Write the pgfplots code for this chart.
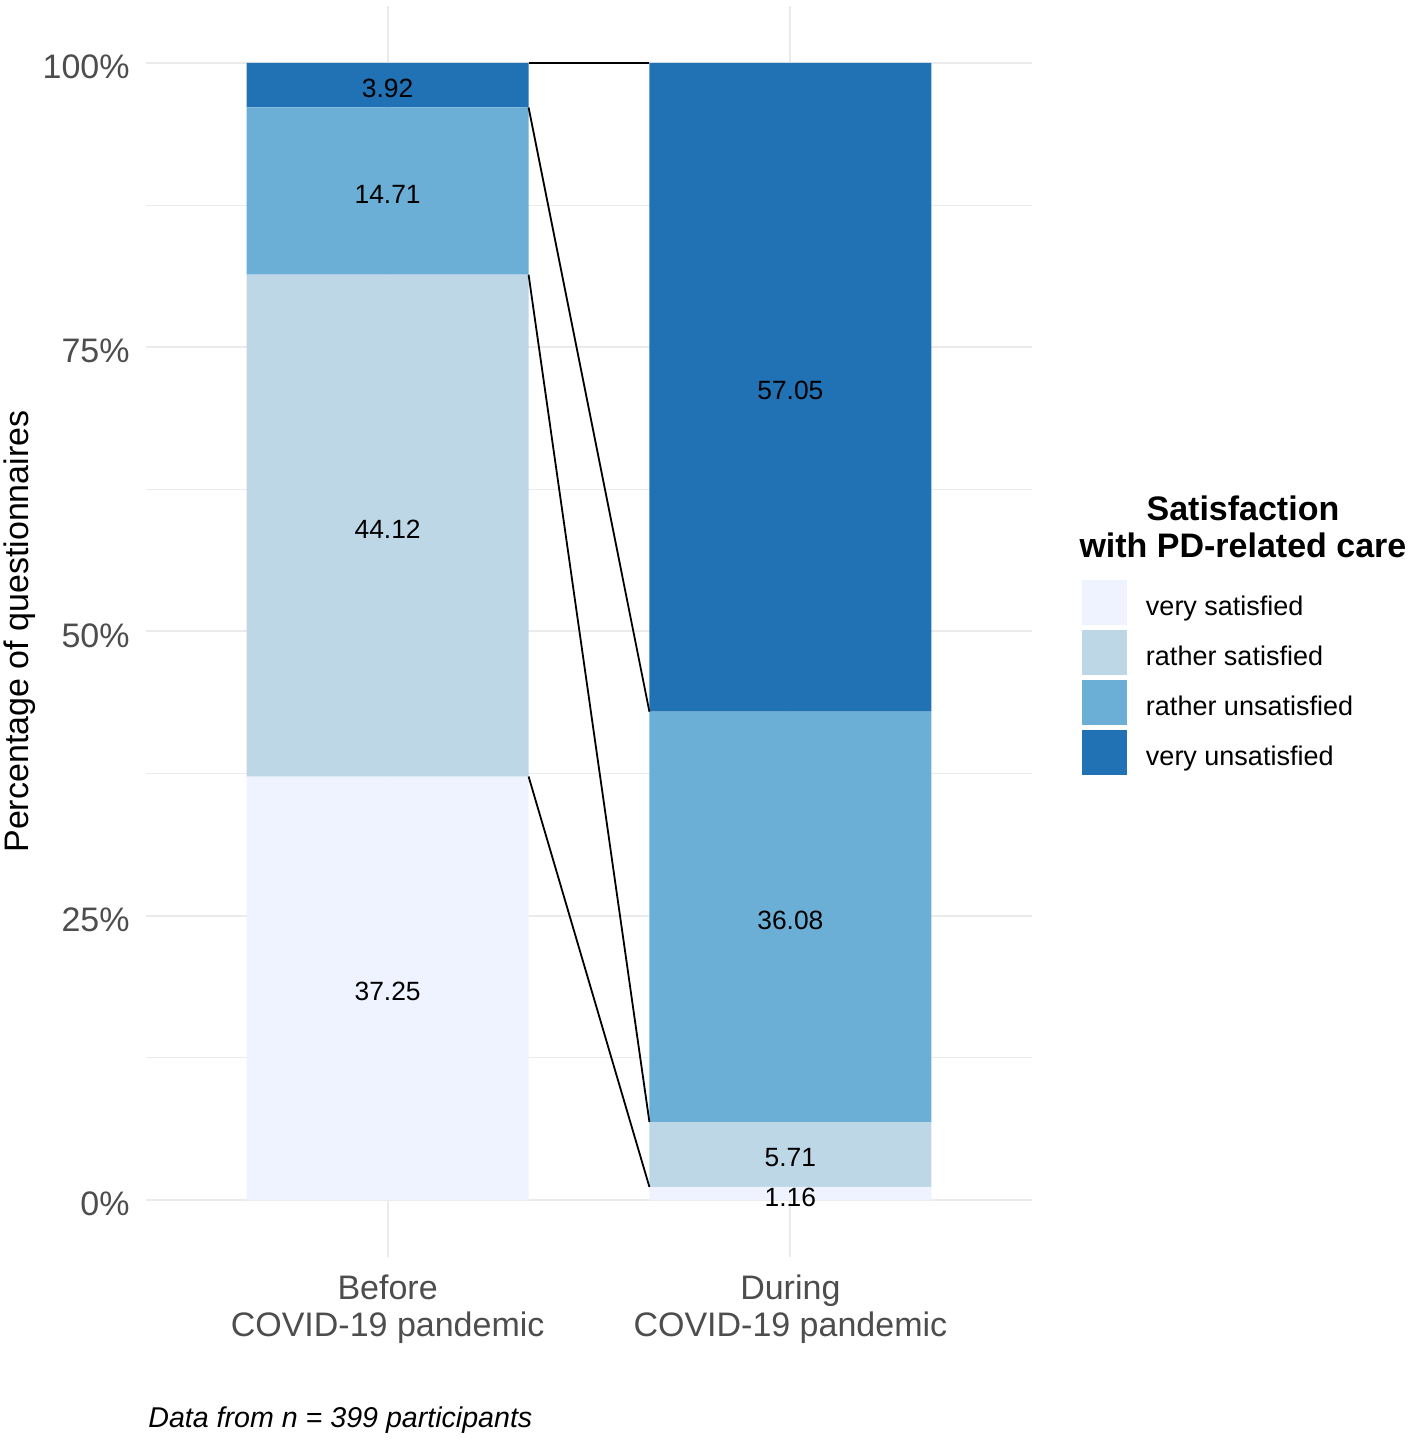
\documentclass[border=0pt]{standalone}
\usepackage{pgfplots}
\pgfplotsset{compat=1.18}
\usepackage{fontspec}
\setmainfont{Liberation Sans}
\definecolor{vs}{HTML}{EFF3FF}
\definecolor{rs}{HTML}{BDD7E7}
\definecolor{ru}{HTML}{6BAED6}
\definecolor{vu}{HTML}{2171B5}
\definecolor{gridc}{HTML}{EBEBEB}
\definecolor{tickc}{HTML}{4D4D4D}
\pgfplotsset{
  base/.style={at={(0,0)}, anchor=south west, scale only axis,
    width=443pt, height=625.5pt, xmin=0.4, xmax=2.6, ymin=-5, ymax=105},
  keyimg/.style={legend image code/.code={\fill[##1] (0pt,-9pt) rectangle (22.5pt,13.5pt);}}
}
\begin{document}
\begin{tikzpicture}
\useasboundingbox (-73pt,-92.5pt) rectangle (635pt,628.5pt);
\begin{axis}[base, ybar stacked, bar width=0.7,
  /pgf/number format/assume math mode=true,
  axis line style={draw=none},
  major tick length=0pt, minor tick length=0pt,
  xtick={1,2},
  xticklabels={{Before\\COVID-19 pandemic},{During\\COVID-19 pandemic}},
  ytick={0,25,50,75,100},
  yticklabels={0\%,25\%,50\%,75\%,100\%},
  minor ytick={12.5,37.5,62.5,87.5},
  xmajorgrids, ymajorgrids, yminorgrids,
  major grid style={gridc, line width=1pt},
  minor grid style={gridc, line width=0.5pt},
  xticklabel style={align=center, font=\fontsize{17}{18.5}\selectfont, text=tickc, inner sep=0pt, anchor=north, yshift=-8.5pt},
  yticklabel style={font=\fontsize{17}{20}\selectfont, text=tickc, inner sep=0pt, anchor=east, xshift=-8pt, yshift=-2pt},
  ylabel={Percentage of questionnaires},
  ylabel style={font=\fontsize{17}{20}\selectfont, at={(axis description cs:-0.1422,0.5)}, anchor=center},
  legend cell align=left,
  legend style={at={(1.05643,0.54117)}, anchor=north west, draw=none, fill=none,
    inner sep=0pt, outer sep=0pt, row sep=2.5pt,
    font=\fontsize{13.5}{16}\selectfont, nodes={inner sep=0pt},
    /tikz/every odd column/.append style={column sep=9.5pt}},
]
\addplot[fill=vs, draw=none, keyimg] coordinates {(1,37.25) (2,1.16)};
\addlegendentry{very satisfied}
\addplot[fill=rs, draw=none, keyimg] coordinates {(1,44.12) (2,5.71)};
\addlegendentry{rather satisfied}
\addplot[fill=ru, draw=none, keyimg] coordinates {(1,14.71) (2,36.08)};
\addlegendentry{rather unsatisfied}
\addplot[fill=vu, draw=none, keyimg] coordinates {(1,3.92) (2,57.05)};
\addlegendentry{very unsatisfied}
\end{axis}
\begin{axis}[base, hide axis, clip=false]
\addplot[black, line width=0.9pt] coordinates {(1.35,100) (1.65,100)};
\addplot[black, line width=0.9pt] coordinates {(1.35,96.08) (1.65,42.95)};
\addplot[black, line width=0.9pt] coordinates {(1.35,81.37) (1.65,6.87)};
\addplot[black, line width=0.9pt] coordinates {(1.35,37.25) (1.65,1.16)};
\addplot[only marks, mark=none, nodes near coords, point meta=explicit symbolic,
  nodes near coords style={anchor=center, font=\fontsize{13.2}{15}\selectfont, text=black, inner sep=0pt, yshift=-1.75pt}]
  table[meta=lab] {
x y lab
1 18.625 37.25
1 59.31 44.12
1 88.725 14.71
1 98.04 3.92
2 0.58 1.16
2 4.015 5.71
2 24.91 36.08
2 71.475 57.05
};
\node[align=center, font=\bfseries\fontsize{17}{18.5}\selectfont] at (rel axis cs:1.2381,0.5835) {Satisfaction\\with PD-related care};
\node[anchor=west, inner sep=0pt, xshift=1pt, font=\itshape\fontsize{14.3}{17}\selectfont] at (rel axis cs:0,-0.1303) {Data from n = 399 participants};
\end{axis}
\end{tikzpicture}
\end{document}
